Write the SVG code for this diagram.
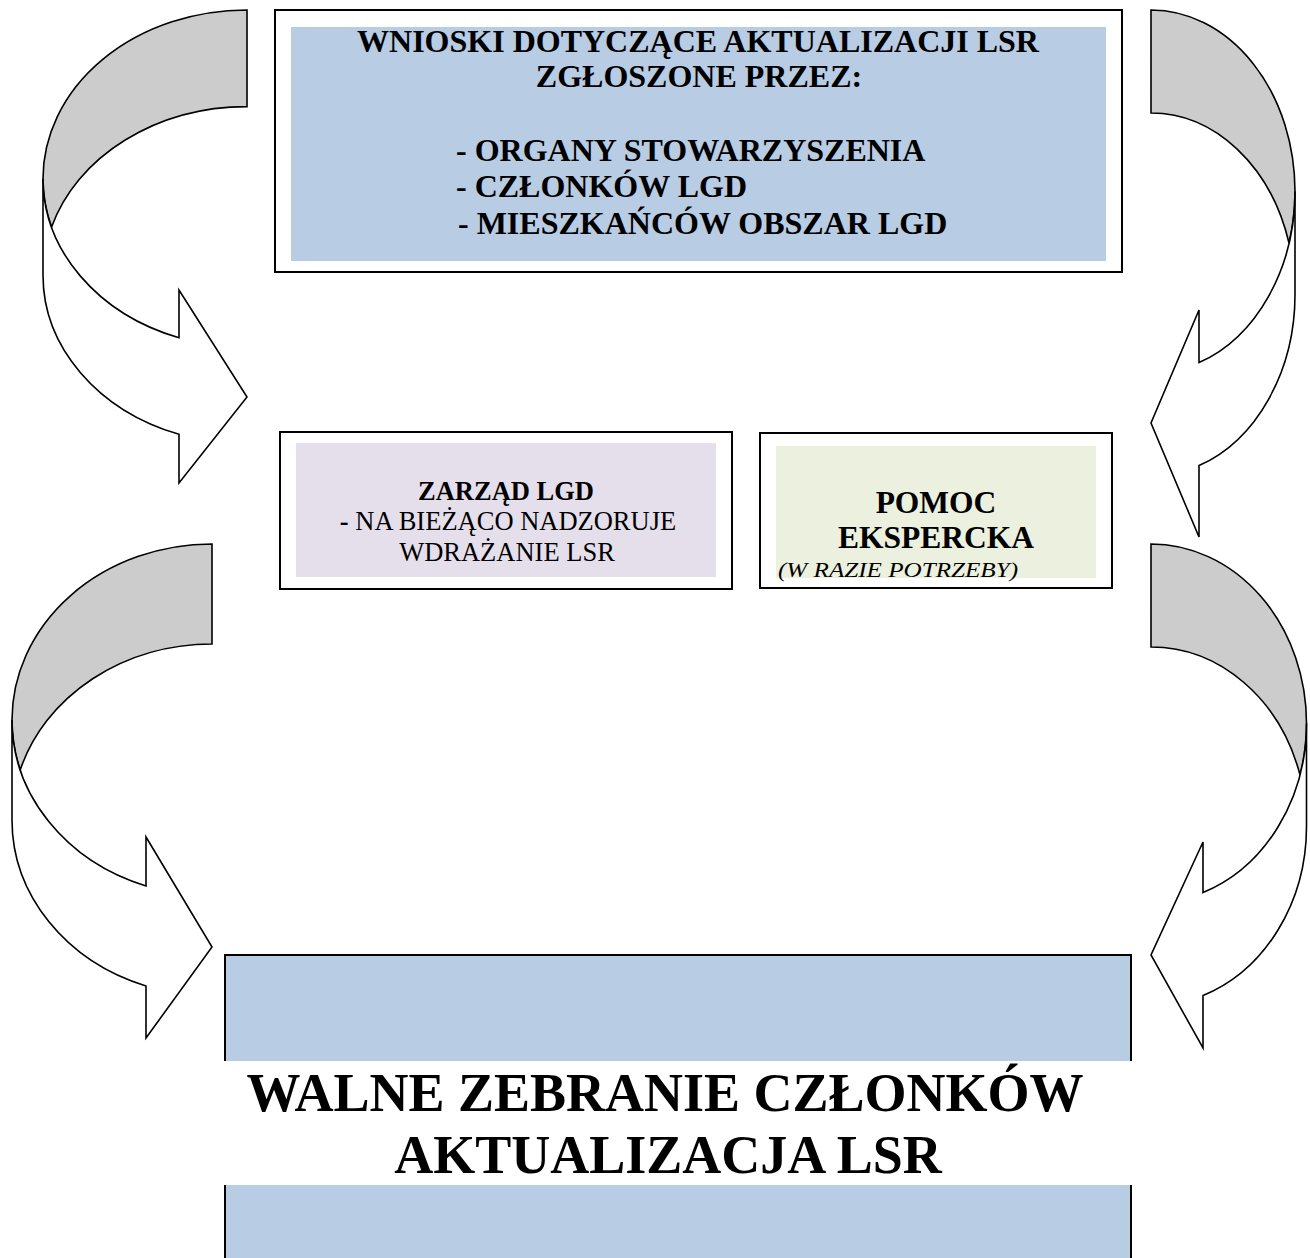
<svg xmlns="http://www.w3.org/2000/svg" width="1310" height="1258" viewBox="0 0 1310 1258">
<style>
.band{fill:#cccccc;stroke:#000;stroke-width:1.6;stroke-linejoin:miter}
.arr{fill:#ffffff;stroke:#000;stroke-width:1.6;stroke-linejoin:miter}
.frame{fill:#ffffff;stroke:#000;stroke-width:2}
.t{font-family:"Liberation Serif","Times New Roman",serif;fill:#000;text-anchor:middle}
.s{text-anchor:start}
.b{font-weight:bold}
</style>
<rect width="1310" height="1258" fill="#ffffff"/>
<g id="connectors">
  <!-- top-left curved arrow -->
  <path class="band" d="M247,10 A204,168.7 0 0 0 43,178.7 A204,168.7 0 0 0 51.6,227 A204,168.7 0 0 1 247,106.6 Z"/>
  <path class="arr" d="M43,178.7 L43,275.3 A204,168.7 0 0 0 179,434.3 L179,483 L247,397 L179,290 L179,337.8 A204,168.7 0 0 1 43,178.7 Z"/>
  <!-- top-right curved arrow -->
  <path class="band" d="M1151,10 A144,181.5 0 0 1 1295,191.5 A144,181.5 0 0 1 1289,243 A144,181.5 0 0 0 1151,113 Z"/>
  <path class="arr" d="M1295,191.5 L1295,294.5 A144,181.5 0 0 1 1199,465.6 L1199,537 L1151,423 L1199,310 L1199,362.6 A144,181.5 0 0 0 1295,191.5 Z"/>
  <!-- bottom-left curved arrow -->
  <path class="band" d="M212,544 A200,176 0 0 0 12,720 A200,176 0 0 0 20.2,770 A200,176 0 0 1 212,644 Z"/>
  <path class="arr" d="M12,720 L12,820 A200,176 0 0 0 146,986 L146,1038 L212,947 L146,837 L146,886 A200,176 0 0 1 12,720 Z"/>
  <!-- bottom-right curved arrow -->
  <path class="band" d="M1151,544 A155.5,179.5 0 0 1 1306.5,723.5 A155.5,179.5 0 0 1 1300,775 A155.5,179.5 0 0 0 1151,647 Z"/>
  <path class="arr" d="M1306.5,723.5 L1306.5,826.5 A155.5,179.5 0 0 1 1203,995.6 L1203,1048 L1151,955 L1203,842 L1203,892.6 A155.5,179.5 0 0 0 1306.5,723.5 Z"/>
</g>
<g id="wnioski">
  <rect class="frame" x="275" y="10" width="847" height="262"/>
  <rect x="291" y="27" width="815" height="234" fill="#b8cce4"/>
  <text class="t b" x="698" y="52" font-size="32">WNIOSKI DOTYCZĄCE AKTUALIZACJI LSR</text>
  <text class="t b" x="699" y="87" font-size="32">ZGŁOSZONE PRZEZ:</text>
  <text class="t b s" x="456" y="161" font-size="32">- ORGANY STOWARZYSZENIA</text>
  <text class="t b s" x="456" y="197" font-size="32">- CZŁONKÓW LGD</text>
  <text class="t b s" x="458" y="234" font-size="32">- MIESZKAŃCÓW OBSZAR LGD</text>
</g>
<g id="zarzad">
  <rect class="frame" x="280" y="432" width="452" height="157"/>
  <rect x="296" y="443" width="420" height="134" fill="#e5dfec"/>
  <text class="t b" x="506" y="500" font-size="26.5">ZARZĄD LGD</text>
  <text class="t" x="508" y="530" font-size="26.5"><tspan font-weight="bold">-</tspan> NA BIEŻĄCO NADZORUJE</text>
  <text class="t" x="507" y="561" font-size="26.5">WDRAŻANIE LSR</text>
</g>
<g id="pomoc">
  <rect class="frame" x="760" y="433" width="352" height="155"/>
  <rect x="776" y="446" width="320" height="132" fill="#ebf1de"/>
  <text class="t b" x="936" y="513" font-size="31.5">POMOC</text>
  <text class="t b" x="936" y="548" font-size="31.5">EKSPERCKA</text>
  <text class="t" x="898" y="577" font-size="21" font-style="italic" textLength="240" lengthAdjust="spacingAndGlyphs">(W RAZIE POTRZEBY)</text>
</g>
<g id="walne">
  <rect x="225" y="955" width="906" height="310" fill="#b8cce4" stroke="#000" stroke-width="2"/>
  <rect x="222" y="1061" width="912" height="124" fill="#ffffff"/>
  <text class="t b" x="665" y="1111" font-size="54">WALNE ZEBRANIE CZŁONKÓW</text>
  <text class="t b" x="668" y="1173" font-size="54">AKTUALIZACJA LSR</text>
</g>
</svg>
